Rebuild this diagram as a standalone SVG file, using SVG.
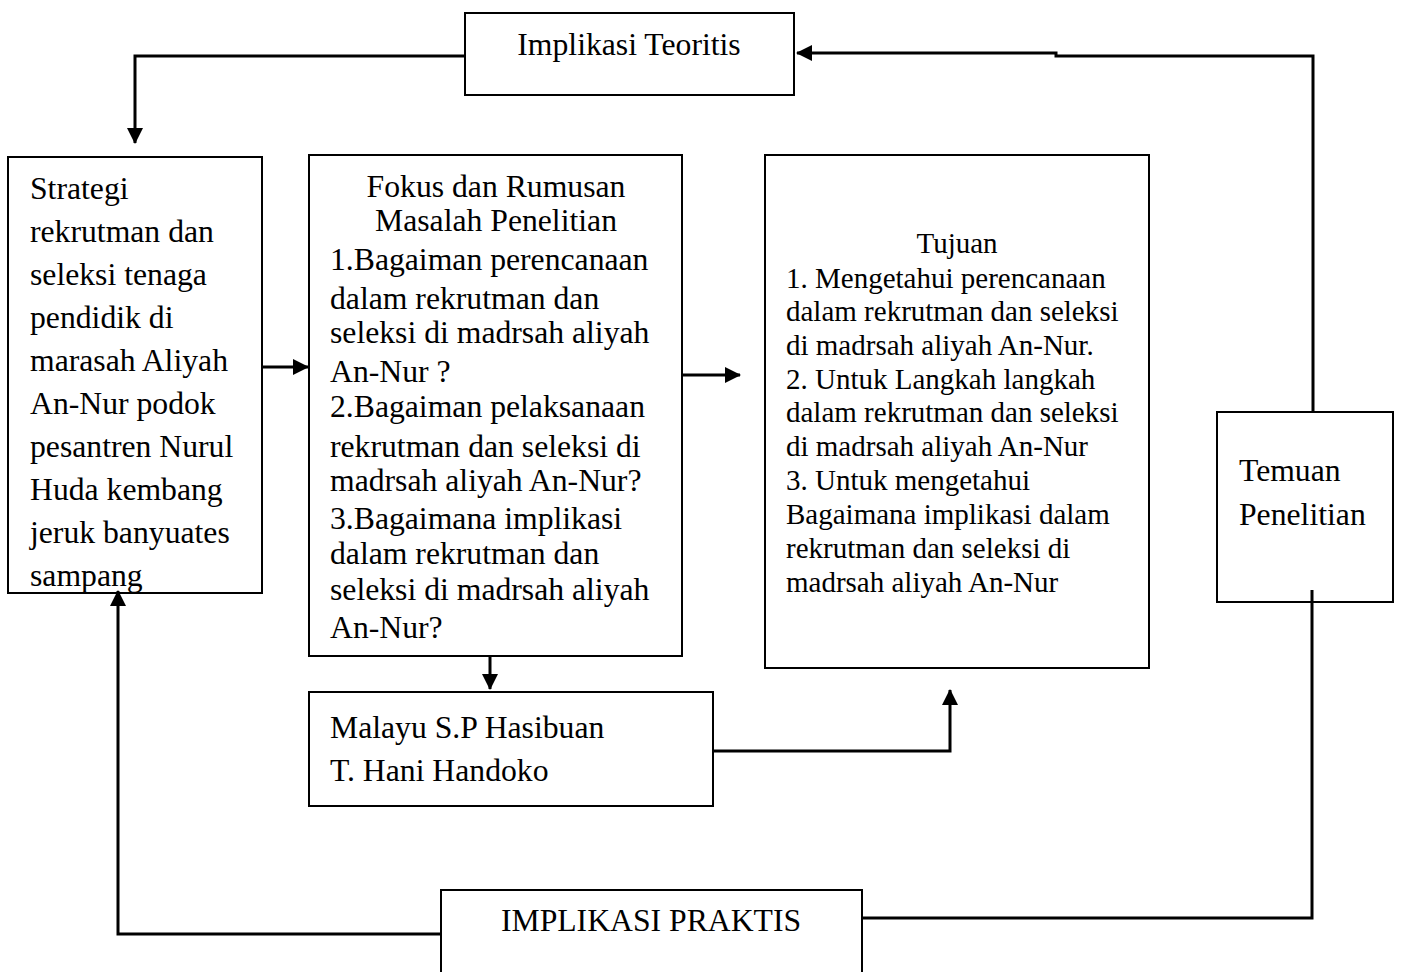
<svg xmlns="http://www.w3.org/2000/svg" width="1402" height="972" viewBox="0 0 1402 972">
<style>
.box{fill:#fff;stroke:#000;stroke-width:2}
.t{font-family:"Liberation Serif","Times New Roman",serif;font-size:31.7px;fill:#000}
.s{font-size:29px}
.c{text-anchor:middle}
.ln{fill:none;stroke:#000;stroke-width:3}
</style>
<defs>
<marker id="ab" markerWidth="16" markerHeight="16" refX="15" refY="8" orient="auto" markerUnits="userSpaceOnUse" viewBox="0 0 16 16">
<path d="M0,0 L16,8 L0,16 Z" fill="#000"/>
</marker>
</defs>
<rect width="1402" height="972" fill="#fff"/>
<g id="implikasi-teoritis">
<rect class="box" x="465" y="13" width="329" height="82"/>
<text class="t c" x="629" y="55">Implikasi Teoritis</text>
</g>
<g id="strategi">
<rect class="box" x="8" y="157" width="254" height="436"/>
<text class="t" x="30" y="199">Strategi</text>
<text class="t" x="30" y="242">rekrutman dan</text>
<text class="t" x="30" y="285">seleksi tenaga</text>
<text class="t" x="30" y="328">pendidik di</text>
<text class="t" x="30" y="371">marasah Aliyah</text>
<text class="t" x="30" y="414">An-Nur podok</text>
<text class="t" x="30" y="457">pesantren Nurul</text>
<text class="t" x="30" y="500">Huda kembang</text>
<text class="t" x="30" y="543">jeruk banyuates</text>
<text class="t" x="30" y="586">sampang</text>
</g>
<g id="fokus">
<rect class="box" x="309" y="155" width="373" height="501"/>
<text class="t c" x="496" y="197">Fokus dan Rumusan</text>
<text class="t c" x="496" y="231">Masalah Penelitian</text>
<text class="t" x="330" y="270">1.Bagaiman perencanaan</text>
<text class="t" x="330" y="309">dalam rekrutman dan</text>
<text class="t" x="330" y="343">seleksi di madrsah aliyah</text>
<text class="t" x="330" y="382">An-Nur ?</text>
<text class="t" x="330" y="417">2.Bagaiman pelaksanaan</text>
<text class="t" x="330" y="457">rekrutman dan seleksi di</text>
<text class="t" x="330" y="491">madrsah aliyah An-Nur?</text>
<text class="t" x="330" y="529">3.Bagaimana implikasi</text>
<text class="t" x="330" y="564">dalam rekrutman dan</text>
<text class="t" x="330" y="600">seleksi di madrsah aliyah</text>
<text class="t" x="330" y="638">An-Nur?</text>
</g>
<g id="tujuan">
<rect class="box" x="765" y="155" width="384" height="513"/>
<text class="t s c" x="957" y="253">Tujuan</text>
<text class="t s" x="786" y="288">1. Mengetahui perencanaan</text>
<text class="t s" x="786" y="321">dalam rekrutman dan seleksi</text>
<text class="t s" x="786" y="355">di madrsah aliyah An-Nur.</text>
<text class="t s" x="786" y="389">2. Untuk Langkah langkah</text>
<text class="t s" x="786" y="422">dalam rekrutman dan seleksi</text>
<text class="t s" x="786" y="456">di madrsah aliyah An-Nur</text>
<text class="t s" x="786" y="490">3. Untuk mengetahui</text>
<text class="t s" x="786" y="524">Bagaimana implikasi dalam</text>
<text class="t s" x="786" y="558">rekrutman dan seleksi di</text>
<text class="t s" x="786" y="592">madrsah aliyah An-Nur</text>
</g>
<g id="temuan">
<rect class="box" x="1217" y="412" width="176" height="190"/>
<text class="t" x="1239" y="481">Temuan</text>
<text class="t" x="1239" y="525">Penelitian</text>
</g>
<g id="malayu">
<rect class="box" x="309" y="692" width="404" height="114"/>
<text class="t" x="330" y="738">Malayu S.P Hasibuan</text>
<text class="t" x="330" y="781">T. Hani Handoko</text>
</g>
<g id="implikasi-praktis">
<rect class="box" x="441" y="890" width="421" height="90"/>
<text class="t c" x="651" y="931">IMPLIKASI PRAKTIS</text>
</g>
<g id="connectors">
<path class="ln" d="M465,56 H135 V143" marker-end="url(#ab)"/>
<path class="ln" d="M1313,411 V56 H1056 V53 H797" marker-end="url(#ab)"/>
<path class="ln" d="M262,367 H308" marker-end="url(#ab)"/>
<path class="ln" d="M682,375 H740" marker-end="url(#ab)"/>
<path class="ln" d="M490,656 V689" marker-end="url(#ab)"/>
<path class="ln" d="M713,751 H950 V690" marker-end="url(#ab)"/>
<path class="ln" d="M1312,590 V918 H862"/>
<path class="ln" d="M441,934 H118 V591" marker-end="url(#ab)"/>
</g>
</svg>
